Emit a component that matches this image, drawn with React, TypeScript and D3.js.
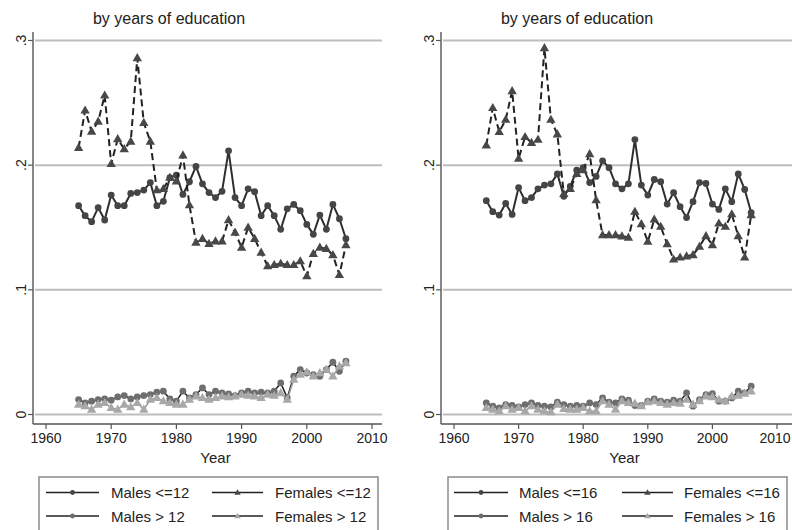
import React from 'react';
import * as d3 from 'd3';

const years = [1965,1966,1967,1968,1969,1970,1971,1972,1973,1974,1975,1976,1977,1978,1979,1980,1981,1982,1983,1984,1985,1986,1987,1988,1989,1990,1991,1992,1993,1994,1995,1996,1997,1998,1999,2000,2001,2002,2003,2004,2005,2006];

const xTicks = [1960, 1970, 1980, 1990, 2000, 2010];
const yTicks = [0, 0.1, 0.2, 0.3];
const yTickLabels = ['0', '.1', '.2', '.3'];

// Left panel (<=12 / >12)
const leftMalesLow = [.1675,.1595,.1547,.166,.156,.176,.1675,.1675,.1773,.178,.180,.186,.1675,.171,.190,.192,.1765,.1867,.199,.185,.178,.174,.179,.2115,.174,.1675,.181,.1787,.1595,.1675,.1595,.1485,.165,.1685,.1635,.1525,.1445,.160,.1485,.1685,.157,.141];
const leftFemalesLow = [.214,.244,.227,.235,.256,.201,.221,.213,.219,.286,.234,.219,.180,.181,.190,.187,.208,.168,.138,.141,.137,.139,.139,.156,.146,.134,.150,.141,.130,.119,.120,.121,.120,.120,.123,.111,.129,.134,.133,.128,.112,.136];
const leftMalesHigh = [.012,.0093,.0107,.012,.0125,.0115,.0141,.0152,.0125,.0141,.0152,.016,.0179,.0187,.0125,.0107,.0187,.0133,.016,.0213,.016,.0187,.0173,.0165,.0152,.0173,.0187,.0173,.0179,.0173,.0187,.0253,.0133,.0307,.036,.0333,.032,.0307,.036,.0419,.0347,.0427];
const leftFemalesHigh = [.008,.0067,.004,.008,.0093,.0053,.004,.008,.0059,.0093,.004,.012,.0133,.0107,.0093,.008,.008,.012,.0147,.0133,.012,.0133,.0147,.0141,.0147,.016,.0152,.0147,.0133,.016,.0152,.0173,.012,.028,.032,.034,.0307,.0333,.036,.0307,.0387,.0413];

// Right panel (<=16 / >16)
const rightMalesLow = [.1715,.1627,.160,.1693,.1605,.182,.1715,.174,.181,.184,.185,.193,.175,.183,.196,.198,.186,.191,.2035,.198,.185,.181,.185,.2205,.184,.176,.1885,.1867,.1688,.1779,.1667,.158,.1707,.186,.1853,.1688,.1645,.181,.1707,.193,.1805,.162];
const rightFemalesLow = [.216,.246,.2267,.2365,.2595,.2053,.2227,.218,.2205,.294,.2365,.2248,.177,.181,.193,.196,.209,.172,.144,.144,.144,.143,.142,.1627,.1528,.1387,.1565,.1507,.1368,.1245,.126,.127,.128,.1347,.1432,.136,.1533,.1507,.1608,.1432,.126,.160];
const rightMalesHigh = [.0093,.0067,.0053,.008,.0072,.0061,.008,.0093,.0072,.0067,.0061,.0099,.008,.0067,.0072,.0067,.0093,.008,.0133,.0099,.0093,.0125,.0115,.0072,.0072,.0107,.0125,.0107,.0099,.0115,.0107,.0173,.0067,.012,.016,.0168,.0107,.0107,.0133,.0187,.0173,.0227];
const rightFemalesHigh = [.0053,.004,.0027,.0067,.004,.0053,.0027,.0067,.004,.0027,.0019,.008,.0045,.004,.004,.0053,.0027,.0027,.0107,.008,.004,.0107,.0093,.0088,.0067,.0099,.0107,.0093,.008,.0093,.0088,.012,.008,.0107,.0147,.0141,.012,.0107,.0147,.0152,.0168,.0187];

const title = 'by years of education';
const leftLegend = ['Males <=12', 'Females <=12', 'Males > 12', 'Females > 12'];
const rightLegend = ['Males <=16', 'Females <=16', 'Males > 16', 'Females > 16'];

const FONT = '"Liberation Sans", Arial, Helvetica, sans-serif';

type SeriesStyle = {
  line: string;
  width: number;
  dash?: string;
  marker: 'circle' | 'triangle';
  fill: string;
};

const styles: SeriesStyle[] = [
  { line: '#2e2e2e', width: 2, marker: 'circle', fill: '#454545' },
  { line: '#222', width: 2, dash: '7,4', marker: 'triangle', fill: '#484848' },
  { line: '#1e1e1e', width: 1.5, marker: 'circle', fill: '#6e6e6e' },
  { line: '#9a9a9a', width: 1.5, marker: 'triangle', fill: '#a8a8a8' },
];

const triPath = d3.symbol().type(d3.symbolTriangle).size(38)() as string;
const triSmall = d3.symbol().type(d3.symbolTriangle).size(18)() as string;

function Marker({ x, y, s, small }: { x: number; y: number; s: SeriesStyle; small?: boolean }) {
  if (s.marker === 'circle') {
    return <circle cx={x} cy={y} r={small ? 2.4 : 3.4} fill={s.fill} />;
  }
  return <path d={small ? triSmall : triPath} transform={`translate(${x},${y + 0.5})`} fill={s.fill} />;
}

type PanelProps = {
  axisX: number;
  plotRight: number;
  x1960: number;
  x2010: number;
  titleX: number;
  series: number[][];
  legend: string[];
  legendBox: [number, number];
  legendCols: { lineX0: number; lineX1: number; textX: number }[];
};

function Panel(p: PanelProps) {
  const x = d3.scaleLinear().domain([1960, 2010]).range([p.x1960, p.x2010]);
  const y = d3.scaleLinear().domain([0, 0.3]).range([414.5, 40.5]);
  const axisY = 424;
  const line = d3
    .line<number>()
    .x((_, i) => x(years[i]))
    .y((d) => y(d));
  const rows = [492.5, 516];
  return (
    <g>
      <text x={p.titleX} y={24} fontSize={16} textAnchor="middle" fill="#222" fontFamily={FONT}>
        {title}
      </text>
      {yTicks.map((t) => (
        <line key={'g' + t} x1={p.axisX + 2} x2={p.plotRight} y1={y(t)} y2={y(t)} stroke="#bdbdbd" strokeWidth={2} />
      ))}
      <line x1={p.axisX} x2={p.axisX} y1={32} y2={axisY} stroke="#555" strokeWidth={1.4} />
      <line x1={p.axisX} x2={p.plotRight} y1={axisY} y2={axisY} stroke="#555" strokeWidth={1.4} />
      {yTicks.map((t, i) => (
        <g key={'yt' + t}>
          <line x1={p.axisX - 5} x2={p.axisX} y1={y(t)} y2={y(t)} stroke="#555" strokeWidth={1.2} />
          <text
            transform={`translate(${p.axisX - 7},${y(t)}) rotate(-90)`}
            fontSize={14}
            textAnchor="middle"
            fill="#222"
            fontFamily={FONT}
          >
            {yTickLabels[i]}
          </text>
        </g>
      ))}
      {xTicks.map((t) => (
        <g key={'xt' + t}>
          <line x1={x(t)} x2={x(t)} y1={axisY} y2={axisY + 5} stroke="#555" strokeWidth={1.2} />
          <text x={Math.min(x(t), 775)} y={443} fontSize={14} textAnchor="middle" fill="#222" fontFamily={FONT}>
            {t}
          </text>
        </g>
      ))}
      <text x={(p.axisX + p.plotRight) / 2 + 8} y={463} fontSize={15} textAnchor="middle" fill="#222" fontFamily={FONT}>
        Year
      </text>
      {p.series.map((d, si) => {
        const s = styles[si];
        return (
          <g key={'s' + si}>
            <path d={line(d) as string} fill="none" stroke={s.line} strokeWidth={s.width} strokeDasharray={s.dash} strokeLinejoin="round" />
            {d.map((v, i) => (
              <Marker key={i} x={x(years[i])} y={y(v)} s={s} />
            ))}
          </g>
        );
      })}
      <rect
        x={p.legendBox[0]}
        y={477}
        width={p.legendBox[1] - p.legendBox[0]}
        height={70}
        fill="none"
        stroke="#8a8a8a"
        strokeWidth={1.5}
      />
      {p.legend.map((lab, i) => {
        const col = p.legendCols[i % 2];
        const ry = rows[Math.floor(i / 2)];
        const s = styles[i];
        const mx = (col.lineX0 + col.lineX1) / 2;
        return (
          <g key={'l' + i}>
            <line x1={col.lineX0} x2={col.lineX1} y1={ry} y2={ry} stroke="#222" strokeWidth={1.3} />
            <Marker x={mx} y={ry} s={s} small />
            <text x={col.textX} y={ry + 5.5} fontSize={15} fill="#222" fontFamily={FONT}>
              {lab}
            </text>
          </g>
        );
      })}
    </g>
  );
}

export default function App() {
  return (
    <svg
      width={792}
      height={530}
      viewBox="0 0 792 530"
      style={{ position: 'absolute', left: 0, top: 0, background: '#fff' }}
    >
      <rect x={0} y={0} width={792} height={530} fill="#fff" />
      <Panel
        axisX={33}
        plotRight={382}
        x1960={46}
        x2010={372}
        titleX={169}
        series={[leftMalesLow, leftFemalesLow, leftMalesHigh, leftFemalesHigh]}
        legend={leftLegend}
        legendBox={[39, 378]}
        legendCols={[
          { lineX0: 46, lineX1: 99, textX: 111 },
          { lineX0: 212, lineX1: 263, textX: 275 },
        ]}
      />
      <Panel
        axisX={441}
        plotRight={792}
        x1960={454}
        x2010={777}
        titleX={577}
        series={[rightMalesLow, rightFemalesLow, rightMalesHigh, rightFemalesHigh]}
        legend={rightLegend}
        legendBox={[448, 787]}
        legendCols={[
          { lineX0: 454, lineX1: 508, textX: 519 },
          { lineX0: 622, lineX1: 673, textX: 684 },
        ]}
      />
    </svg>
  );
}
